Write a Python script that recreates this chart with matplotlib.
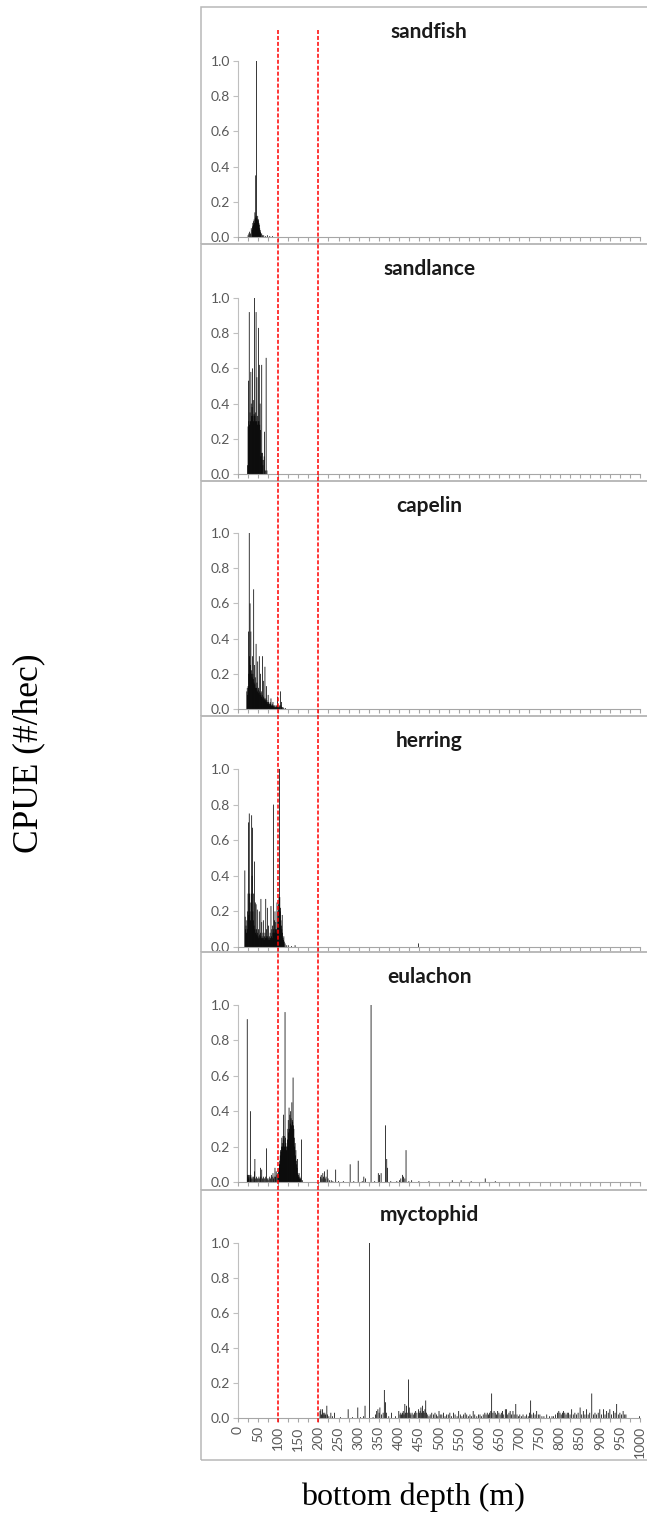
import matplotlib
matplotlib.use("Agg")
import matplotlib.pyplot as plt
from matplotlib.patches import Rectangle
from matplotlib.lines import Line2D

# ---------------- data ----------------
species = ["sandfish", "sandlance", "capelin", "herring", "eulachon", "myctophid"]

sandfish_depth = [25, 27, 29, 31, 33, 35, 36, 37, 38, 39,
                  40, 41, 42, 43, 44, 45, 46, 47, 48, 49,
                  50, 51, 52, 53, 54, 55, 56, 57, 59, 61,
                  64, 68, 73, 79, 86]
sandfish_cpue = [0.01, 0.02, 0.03, 0.02, 0.05, 0.04, 0.06, 0.08, 0.07, 0.09,
                 0.10, 0.08, 0.14, 0.11, 0.35, 0.12, 1.00, 0.11, 0.10, 0.12,
                 0.09, 0.10, 0.08, 0.07, 0.05, 0.04, 0.03, 0.02, 0.02, 0.01,
                 0.01, 0.005, 0.01, 0.005, 0.005]

sandlance_depth = [24, 25, 26, 27, 28, 29, 30, 31, 32, 33,
                   34, 35, 36, 37, 38, 39, 40, 41, 42, 43,
                   44, 45, 46, 47, 48, 49, 50, 51, 52, 53,
                   54, 55, 56, 57, 58, 59, 60, 61, 62, 64,
                   65, 66, 68, 70, 72]
sandlance_cpue = [0.05, 0.27, 0.53, 0.30, 0.92, 0.28, 0.35, 0.30, 0.58, 0.40,
                  0.33, 0.38, 0.60, 0.33, 0.42, 0.30, 0.34, 1.00, 0.33, 0.30,
                  0.35, 0.92, 0.30, 0.55, 0.33, 0.28, 0.30, 0.83, 0.30, 0.62,
                  0.28, 0.40, 0.25, 0.10, 0.12, 0.62, 0.08, 0.12, 0.05, 0.08,
                  0.10, 0.24, 0.02, 0.66, 0.02]

capelin_depth = [22, 23, 24, 25, 26, 27, 28, 29, 30, 31,
                 32, 33, 34, 35, 36, 37, 38, 39, 40, 41,
                 42, 43, 44, 45, 46, 47, 48, 49, 50, 51,
                 52, 53, 54, 55, 56, 57, 58, 59, 60, 61,
                 62, 63, 64, 65, 66, 67, 68, 69, 70, 71,
                 72, 73, 74, 75, 76, 77, 78, 79, 80, 81,
                 82, 83, 84, 85, 86, 87, 88, 89, 90, 91,
                 92, 93, 94, 95, 96, 97, 98, 99, 100, 101,
                 102, 103, 104, 106, 107, 108, 109, 110, 112, 114,
                 118]
capelin_cpue = [0.10, 0.12, 0.08, 0.13, 0.44, 0.20, 1.00, 0.30, 0.60, 0.25,
                0.44, 0.20, 0.22, 0.18, 0.30, 0.20, 0.17, 0.68, 0.15, 0.25,
                0.14, 0.18, 0.12, 0.37, 0.12, 0.15, 0.10, 0.27, 0.11, 0.12,
                0.09, 0.30, 0.10, 0.08, 0.20, 0.09, 0.07, 0.10, 0.08, 0.30,
                0.06, 0.16, 0.07, 0.05, 0.06, 0.24, 0.05, 0.06, 0.04, 0.13,
                0.05, 0.04, 0.03, 0.08, 0.04, 0.03, 0.03, 0.02, 0.04, 0.03,
                0.06, 0.02, 0.02, 0.03, 0.02, 0.04, 0.02, 0.01, 0.02, 0.01,
                0.02, 0.01, 0.01, 0.02, 0.01, 0.02, 0.07, 0.02, 0.01, 0.01,
                0.02, 0.01, 0.02, 0.10, 0.02, 0.04, 0.01, 0.01, 0.01, 0.005,
                0.005]

herring_depth = [17, 18, 19, 20, 21, 22, 23, 24, 25, 26,
                 27, 28, 29, 30, 31, 32, 33, 34, 35, 36,
                 37, 38, 39, 40, 41, 42, 43, 44, 45, 46,
                 47, 48, 49, 50, 51, 52, 53, 54, 55, 56,
                 57, 58, 59, 60, 61, 62, 63, 64, 65, 66,
                 67, 68, 69, 70, 71, 72, 73, 74, 75, 76,
                 77, 78, 79, 80, 81, 82, 83, 84, 85, 86,
                 87, 88, 89, 90, 91, 92, 93, 94, 95, 96,
                 97, 98, 99, 100, 101, 102, 103, 104, 105, 106,
                 107, 108, 109, 110, 111, 112, 113, 114, 115, 117,
                 120, 125, 133, 142, 449]
herring_cpue = [0.43, 0.17, 0.10, 0.12, 0.08, 0.15, 0.10, 0.20, 0.30, 0.70,
                0.18, 0.75, 0.30, 0.20, 0.15, 0.25, 0.30, 0.74, 0.40, 0.67,
                0.20, 0.15, 0.30, 0.12, 0.48, 0.10, 0.25, 0.08, 0.24, 0.10,
                0.07, 0.21, 0.08, 0.06, 0.10, 0.05, 0.20, 0.07, 0.06, 0.08,
                0.27, 0.05, 0.14, 0.06, 0.05, 0.08, 0.15, 0.05, 0.04, 0.06,
                0.08, 0.05, 0.27, 0.06, 0.10, 0.05, 0.22, 0.06, 0.04, 0.12,
                0.05, 0.06, 0.04, 0.08, 0.05, 0.23, 0.06, 0.10, 0.05, 0.12,
                0.08, 0.80, 0.10, 0.08, 0.15, 0.20, 0.10, 0.14, 0.08, 0.10,
                0.25, 0.12, 0.20, 0.15, 0.24, 0.28, 1.00, 0.28, 0.20, 0.22,
                0.15, 0.12, 0.10, 0.18, 0.08, 0.05, 0.04, 0.06, 0.03, 0.02,
                0.01, 0.01, 0.005, 0.01, 0.02]

eulachon_depth = [23, 24, 25, 26, 27, 28, 30, 31, 32, 33,
                  35, 37, 39, 41, 42, 44, 46, 48, 50, 52,
                  54, 56, 57, 59, 61, 63, 65, 67, 69, 71,
                  73, 75, 77, 79, 81, 83, 85, 87, 88, 90,
                  92, 93, 95, 97, 99, 100, 101, 102, 103, 104,
                  105, 106, 107, 108, 109, 110, 111, 112, 113, 114,
                  115, 116, 117, 118, 119, 120, 121, 122, 123, 124,
                  125, 126, 127, 128, 129, 130, 131, 132, 133, 134,
                  135, 136, 137, 138, 139, 140, 141, 142, 143, 144,
                  145, 146, 147, 148, 149, 150, 151, 152, 153, 154,
                  155, 156, 158, 160, 205, 207, 209, 211, 213, 215,
                  217, 219, 222, 224, 228, 232, 236, 243, 250, 262,
                  279, 288, 299, 309, 313, 317, 331, 340, 349, 352,
                  356, 367, 370, 372, 380, 395, 402, 405, 409, 412,
                  415, 418, 425, 432, 450, 475, 533, 555, 580, 615,
                  640]
eulachon_cpue = [0.92, 0.04, 0.03, 0.04, 0.02, 0.04, 0.03, 0.40, 0.04, 0.02,
                 0.03, 0.02, 0.03, 0.06, 0.13, 0.02, 0.03, 0.02, 0.02, 0.03,
                 0.02, 0.08, 0.03, 0.07, 0.02, 0.03, 0.02, 0.02, 0.03, 0.19,
                 0.02, 0.01, 0.02, 0.03, 0.02, 0.04, 0.03, 0.05, 0.02, 0.03,
                 0.08, 0.03, 0.06, 0.04, 0.05, 0.03, 0.06, 0.08, 0.10, 0.12,
                 0.15, 0.18, 0.17, 0.20, 0.25, 0.22, 0.20, 0.26, 0.38, 0.24,
                 0.26, 0.20, 0.96, 0.25, 0.22, 0.20, 0.18, 0.20, 0.24, 0.30,
                 0.35, 0.28, 0.42, 0.30, 0.38, 0.33, 0.40, 0.36, 0.32, 0.45,
                 0.35, 0.34, 0.59, 0.32, 0.30, 0.25, 0.20, 0.22, 0.15, 0.18,
                 0.12, 0.10, 0.08, 0.13, 0.05, 0.04, 0.03, 0.05, 0.02, 0.03,
                 0.02, 0.02, 0.24, 0.01, 0.03, 0.04, 0.02, 0.05, 0.03, 0.06,
                 0.02, 0.03, 0.07, 0.02, 0.01, 0.01, 0.005, 0.07, 0.005, 0.005,
                 0.10, 0.005, 0.12, 0.005, 0.03, 0.02, 1.00, 0.005, 0.05, 0.04,
                 0.05, 0.32, 0.13, 0.08, 0.005, 0.005, 0.01, 0.02, 0.04, 0.03,
                 0.02, 0.18, 0.005, 0.01, 0.005, 0.005, 0.01, 0.01, 0.005, 0.02,
                 0.005]

myctophid_depth = [204, 206, 208, 210, 212, 214, 216, 218, 221, 223,
                   226, 231, 235, 240, 255, 274, 285, 298, 305, 312,
                   316, 327, 336, 342, 345, 348, 351, 353, 357, 361,
                   364, 367, 369, 375, 382, 392, 400, 403, 405, 407,
                   409, 411, 413, 415, 417, 419, 421, 424, 426, 428,
                   430, 433, 436, 439, 442, 445, 449, 451, 453, 455,
                   457, 459, 461, 463, 465, 467, 469, 472, 475, 478,
                   482, 486, 490, 494, 497, 500, 503, 507, 511, 515,
                   519, 523, 527, 531, 536, 540, 545, 549, 553, 557,
                   561, 565, 569, 573, 577, 581, 585, 589, 594, 598,
                   602, 606, 610, 614, 617, 620, 623, 626, 629, 631,
                   634, 637, 640, 643, 646, 649, 652, 655, 658, 661,
                   665, 668, 671, 674, 677, 680, 684, 687, 691, 694,
                   698, 701, 705, 709, 714, 718, 722, 725, 728, 731,
                   735, 739, 743, 747, 751, 756, 761, 768, 775, 781,
                   785, 790, 795, 798, 801, 804, 807, 810, 813, 816,
                   819, 822, 826, 830, 834, 838, 842, 846, 851, 855,
                   859, 863, 867, 871, 875, 880, 884, 888, 892, 896,
                   900, 904, 909, 913, 917, 921, 925, 929, 934, 938,
                   942, 946, 950, 954, 958, 962, 965, 999]
myctophid_cpue = [0.04, 0.05, 0.02, 0.05, 0.03, 0.02, 0.03, 0.02, 0.07, 0.02,
                  0.01, 0.03, 0.01, 0.03, 0.005, 0.05, 0.005, 0.06, 0.005, 0.01,
                  0.07, 1.00, 0.005, 0.02, 0.04, 0.05, 0.03, 0.06, 0.02, 0.03,
                  0.16, 0.09, 0.03, 0.01, 0.03, 0.01, 0.04, 0.02, 0.03, 0.02,
                  0.03, 0.04, 0.02, 0.08, 0.03, 0.07, 0.03, 0.22, 0.06, 0.03,
                  0.02, 0.03, 0.02, 0.03, 0.04, 0.03, 0.05, 0.03, 0.04, 0.06,
                  0.03, 0.07, 0.04, 0.03, 0.05, 0.10, 0.03, 0.02, 0.01, 0.02,
                  0.03, 0.02, 0.03, 0.02, 0.01, 0.04, 0.02, 0.02, 0.03, 0.01,
                  0.02, 0.02, 0.03, 0.01, 0.03, 0.02, 0.01, 0.04, 0.02, 0.01,
                  0.02, 0.03, 0.02, 0.01, 0.02, 0.01, 0.04, 0.02, 0.01, 0.02,
                  0.02, 0.01, 0.02, 0.03, 0.02, 0.03, 0.02, 0.03, 0.04, 0.14,
                  0.03, 0.04, 0.03, 0.02, 0.04, 0.03, 0.02, 0.03, 0.04, 0.02,
                  0.05, 0.05, 0.02, 0.03, 0.04, 0.02, 0.04, 0.02, 0.08, 0.02,
                  0.01, 0.02, 0.01, 0.02, 0.01, 0.02, 0.01, 0.03, 0.10, 0.02,
                  0.03, 0.02, 0.04, 0.02, 0.02, 0.01, 0.01, 0.02, 0.01, 0.01,
                  0.01, 0.02, 0.03, 0.04, 0.03, 0.02, 0.03, 0.04, 0.03, 0.02,
                  0.03, 0.03, 0.02, 0.05, 0.02, 0.03, 0.02, 0.03, 0.06, 0.02,
                  0.04, 0.02, 0.05, 0.02, 0.03, 0.14, 0.02, 0.03, 0.02, 0.03,
                  0.05, 0.02, 0.05, 0.02, 0.04, 0.03, 0.05, 0.02, 0.04, 0.03,
                  0.08, 0.02, 0.03, 0.02, 0.04, 0.02, 0.02, 0.01]

depth_data = [sandfish_depth, sandlance_depth, capelin_depth,
              herring_depth, eulachon_depth, myctophid_depth]
cpue_data = [sandfish_cpue, sandlance_cpue, capelin_cpue,
             herring_cpue, eulachon_cpue, myctophid_cpue]

y_ticks = [0.0, 0.2, 0.4, 0.6, 0.8, 1.0]
x_ticks = [0, 25, 50, 75, 100, 125, 150, 175, 200, 225, 250, 275, 300, 325,
           350, 375, 400, 425, 450, 475, 500, 525, 550, 575, 600, 625, 650,
           675, 700, 725, 750, 775, 800, 825, 850, 875, 900, 925, 950, 975, 1000]
shelf_breaks = [100, 200]

# ---------------- layout (pixels) ----------------
W, H = 647, 1526
AX_L, AX_R = 238, 640
# (y of 1.0, y of 0.0, box top, box bottom)
panel_px = [(61, 237, 7, 244), (298, 474, 244, 481), (533, 709, 481, 716),
            (769, 947, 716, 952), (1005, 1182, 952, 1190), (1243, 1418, 1190, 1460)]

fig = plt.figure(figsize=(W / 100, H / 100), dpi=100)
fig.patch.set_facecolor("white")

TICK_GRAY = "#595959"
AXIS_GRAY = "#bfbfbf"
BOX_GRAY = "#b8b8b8"

axes = []
for i, name in enumerate(species):
    y1, y0, bt, bb = panel_px[i]
    # panel frame
    fig.add_artist(Rectangle((201 / W, 1 - bb / H), (720 - 201) / W, (bb - bt) / H,
                             transform=fig.transFigure, fill=False,
                             edgecolor=BOX_GRAY, linewidth=1.1, zorder=0.5))
    ax = fig.add_axes([AX_L / W, 1 - y0 / H, (AX_R - AX_L) / W, (y0 - y1) / H])
    ax.patch.set_alpha(0)
    bars = ax.bar(depth_data[i], cpue_data[i], width=1.9, color="black",
                  linewidth=0, align="center")
    for b in bars:
        b.set_snap(False)
    ax.set_xlim(0, 1000)
    ax.set_ylim(0, 1)
    for s in ["top", "right"]:
        ax.spines[s].set_visible(False)
    ax.spines["left"].set_color(AXIS_GRAY)
    ax.spines["left"].set_linewidth(0.8)
    ax.spines["bottom"].set_color("#a6a6a6")
    ax.spines["bottom"].set_linewidth(0.8)
    ax.set_yticks(y_ticks)
    ax.set_yticklabels([f"{v:.1f}" for v in y_ticks])
    ax.tick_params(axis="y", length=3.5, width=0.8, color=AXIS_GRAY,
                   labelsize=10, labelcolor=TICK_GRAY, pad=2)
    for lab in ax.get_yticklabels():
        lab.set_fontfamily("Lato")
    ax.set_xticks(x_ticks)
    if i == len(species) - 1:
        ax.set_xticklabels([str(t) if t % 50 == 0 else "" for t in x_ticks],
                           rotation=90)
        ax.tick_params(axis="x", length=3, width=0.8, color="#a6a6a6",
                       labelsize=10, labelcolor=TICK_GRAY, pad=3)
        for lab in ax.get_xticklabels():
            lab.set_fontfamily("Lato")
    else:
        ax.tick_params(axis="x", length=3, width=0.8, color="#a6a6a6",
                       labelbottom=False)
    fig.text(429 / W, 1 - (bt + 25) / H, name, ha="center", va="center",
             fontfamily="Lato", fontweight="bold", fontsize=15, color="#1a1a1a")
    axes.append(ax)

# red dashed lines at shelf break depths spanning all panels
inv = fig.transFigure.inverted()
for d in shelf_breaks:
    xf = inv.transform(axes[0].transData.transform((d, 0)))[0]
    fig.add_artist(Line2D([xf, xf], [1 - 30 / H, 1 - 1423 / H],
                          transform=fig.transFigure, color="#ff0000",
                          linewidth=1.1, linestyle=(0, (2.6, 1.3)), zorder=5))

fig.text(29 / W, 1 - 753 / H, "CPUE (#/hec)", rotation=90, ha="center",
         va="center", fontfamily="Liberation Serif", fontsize=25.5, color="black")
fig.text(413 / W, 1 - 1497 / H, "bottom depth (m)", ha="center", va="center",
         fontfamily="Liberation Serif", fontsize=23, color="black")

fig.savefig("out.png", dpi=100, facecolor="white")
